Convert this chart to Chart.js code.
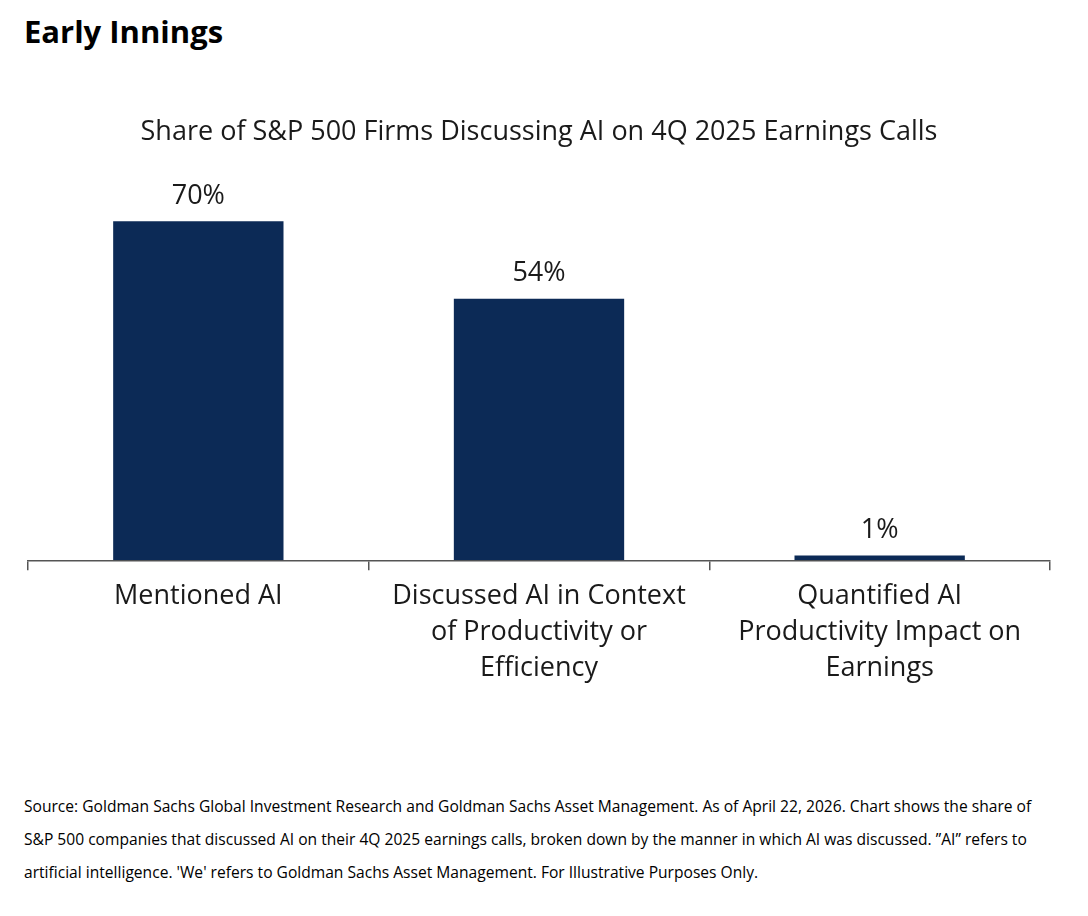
<!DOCTYPE html>
<html>
<head>
<meta charset="utf-8">
<script src="https://cdn.jsdelivr.net/npm/chart.js@4"></script>
<style>
  body { margin: 0; background: #fff; font-family: "Open Sans", sans-serif; }
  #wrap { position: relative; width: 1088px; height: 916px; }
  h1 { position: absolute; left: 24px; top: 10px; margin: 0; font-size: 31px; font-weight: 700; color: #000; }
  #chartBox { position: absolute; left: 0; top: 110px; width: 1088px; height: 584px; }
  #note { position: absolute; left: 24px; top: 790px; width: 1030px; font-size: 15.6px; line-height: 33px; color: #000; }
</style>
</head>
<body>
<div id="wrap">
  <h1>Early Innings</h1>
  <div id="chartBox"><canvas id="chart"></canvas></div>
  <div id="note">Source: Goldman Sachs Global Investment Research and Goldman Sachs Asset Management. As of April 22, 2026. Chart shows the share of S&amp;P 500 companies that discussed AI on their 4Q 2025 earnings calls, broken down by the manner in which AI was discussed. ”AI” refers to artificial intelligence. 'We' refers to Goldman Sachs Asset Management. For Illustrative Purposes Only.</div>
</div>
<script>
const categories = [
  ['Mentioned AI'],
  ['Discussed AI in Context', 'of Productivity or', 'Efficiency'],
  ['Quantified AI', 'Productivity Impact on', 'Earnings']
];
const shares = [70, 54, 1];

// draws the percentage above each bar
const valueLabels = {
  id: 'valueLabels',
  afterDatasetsDraw(chart) {
    const { ctx } = chart;
    const meta = chart.getDatasetMeta(0);
    ctx.save();
    ctx.font = '27px "Open Sans", sans-serif';
    ctx.fillStyle = '#1a1a1a';
    ctx.textAlign = 'center';
    ctx.textBaseline = 'bottom';
    meta.data.forEach((bar, i) => {
      ctx.fillText(shares[i] + '%', bar.x, bar.y - 12);
    });
    ctx.restore();
  }
};

new Chart(document.getElementById('chart'), {
  type: 'bar',
  data: {
    labels: categories,
    datasets: [{
      data: shares,
      backgroundColor: '#0c2a56',
      barPercentage: 0.5,
      categoryPercentage: 1
    }]
  },
  options: {
    responsive: true,
    maintainAspectRatio: false,
    animation: false,
    layout: { padding: { left: 28, right: 38, top: 0, bottom: 0 } },
    plugins: {
      legend: { display: false },
      tooltip: { enabled: false },
      title: {
        display: true,
        text: 'Share of S&P 500 Firms Discussing AI on 4Q 2025 Earnings Calls',
        color: '#1a1a1a',
        font: { family: '"Open Sans", sans-serif', size: 27, weight: 'normal' },
        padding: { top: 6, bottom: 10 }
      }
    },
    scales: {
      x: {
        offset: true,
        border: { display: true, color: '#555', width: 1.5 },
        grid: { display: true, drawOnChartArea: false, offset: true, tickLength: 10, color: '#555', lineWidth: 1.5 },
        ticks: {
          color: '#1a1a1a',
          font: { family: '"Open Sans", sans-serif', size: 27, lineHeight: 1.33 },
          padding: 8,
          maxRotation: 0
        }
      },
      y: {
        display: false,
        min: 0,
        max: 83
      }
    }
  },
  plugins: [valueLabels]
});
</script>
</body>
</html>
